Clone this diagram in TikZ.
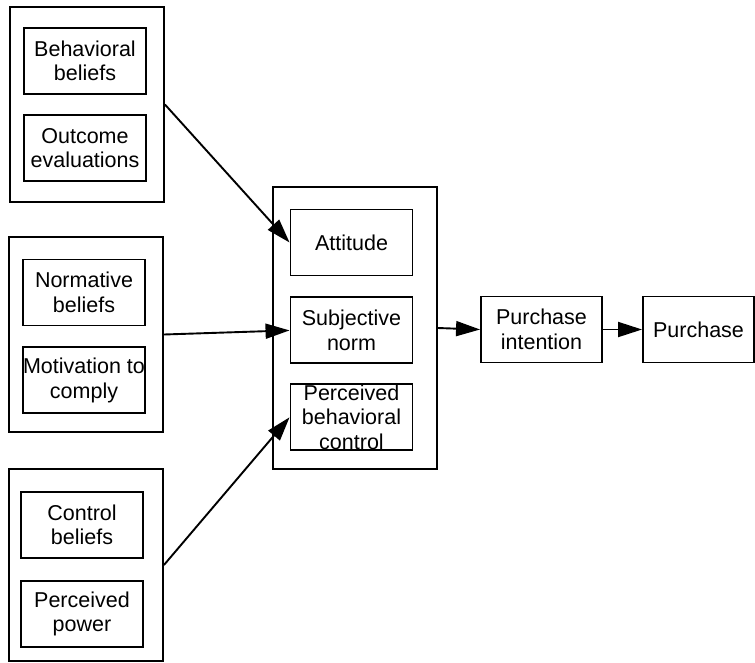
\documentclass[tikz,border=0pt]{standalone}
\usepackage{fontspec}
\setmainfont{Liberation Sans}
\usetikzlibrary{positioning,arrows.meta}
\tikzset{
  construct/.style={
      draw,
      line width=1.9pt,
      align=center,
      inner sep=0pt,
      font=\tpbfont,
      minimum width=122pt,
      minimum height=66pt,
  },
  groupbox/.style={
      draw,
      line width=1.9pt,
      inner sep=0pt,
      minimum width=154pt,
  },
  link/.style={
      line width=1.9pt,
      -{Triangle[length=24pt,width=15pt]}
  },
}
\newcommand{\tpbfont}{\fontsize{21.5}{24.5}\selectfont}

\begin{document}
\begin{tikzpicture}[x=1pt,y=-1pt]
  \useasboundingbox (0,0) rectangle (755,662);

  % belief groups
  \node[groupbox, minimum height=195pt] (behgroup) at (87,104.5) {};
  \node[groupbox, minimum height=195pt] (normgroup) at (86,334.5) {};
  \node[groupbox, minimum height=192pt] (ctrlgroup) at (86,565) {};

  \node[construct] (behbel) at (85,61) {Behavioral\\beliefs};
  \node[construct, below=19pt of behbel] (outeval) {Outcome\\evaluations};
  \node[construct] (normbel) at (84,292.5) {Normative\\beliefs};
  \node[construct, below=20pt of normbel] (motcomp) {Motivation to\\comply};
  \node[construct] (ctrlbel) at (82,525) {Control\\beliefs};
  \node[construct, below=21pt of ctrlbel] (percpow) {Perceived\\power};

  % attitude, norm, control
  \node[groupbox, minimum width=164pt, minimum height=282pt] (tpbgroup) at (355,328) {};
  \node[construct] (attitude) at (351.5,242.5) {Attitude};
  \node[construct, below=20pt of attitude] (subnorm) {Subjective\\norm};
  \node[construct, below=19pt of subnorm] (pbc) {Perceived\\behavioral\\control};

  \node[construct, minimum width=121pt] (intent) at (541.5,329.5) {Purchase\\intention};
  \node[construct, minimum width=111pt] (purchase) at (698.5,329.5) {Purchase};

  \draw[link] (behgroup.east) -- (attitude.west);
  \draw[link] (normgroup.east) -- (subnorm.west);
  \draw[link] (ctrlgroup.east) -- (pbc.west);
  \draw[link] (tpbgroup.east) -- (intent.west);
  \draw[link] (intent.east) -- (purchase.west);
\end{tikzpicture}
\end{document}
